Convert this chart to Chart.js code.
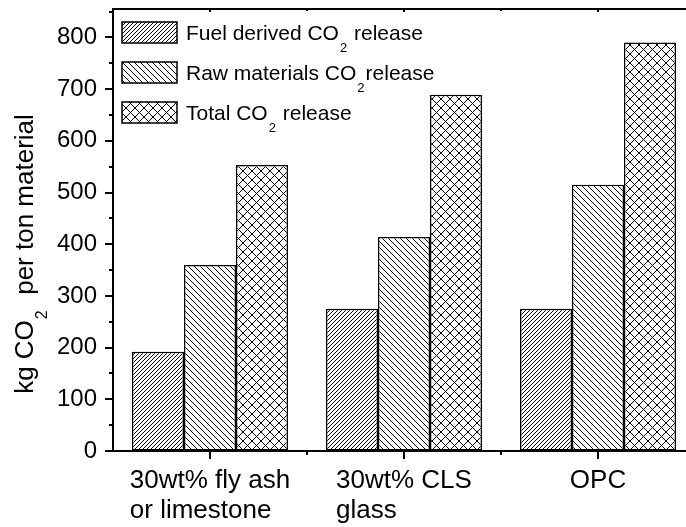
<!DOCTYPE html>
<html>
<head>
<meta charset="utf-8">
<script src="https://cdn.jsdelivr.net/npm/chart.js@4/dist/chart.umd.min.js"></script>
<style>
  html, body { margin: 0; padding: 0; background: #fff; overflow: hidden; }
  #chart { display: block; }
</style>
</head>
<body>
<canvas id="chart" width="700" height="527"></canvas>
<script>
// --- Data ---
const categories = [['30wt% fly ash', 'or limestone'], ['30wt% CLS', 'glass'], ['OPC']];
const seriesNames = ['Fuel derived CO\u2082 release', 'Raw materials CO\u2082release', 'Total CO\u2082 release'];
const fuelCO2 = [192, 275, 275];
const rawCO2 = [360, 414, 515];
const totalCO2 = [553, 689, 790];
const yTitle = 'kg CO\u2082  per ton material';

const FONT = '"Liberation Sans", Arial, sans-serif';

// --- Hatch patterns ---
const makeHatch = (size, dirs) => {
    const c = document.createElement('canvas');
    c.width = size; c.height = size;
    const g = c.getContext('2d');
    g.fillStyle = '#fff';
    g.fillRect(0, 0, size, size);
    g.strokeStyle = '#000';
    g.lineWidth = 1;
    dirs.forEach(d => {
        g.beginPath();
        for (let k = -1; k <= 1; k++) {
            if (d === '/') {
                g.moveTo(k * size - 1, size + 1);
                g.lineTo(k * size + size + 1, -1);
            } else {
                g.moveTo(k * size - 1, -1);
                g.lineTo(k * size + size + 1, size + 1);
            }
        }
        g.stroke();
    });
    return g.createPattern(c, 'repeat');
};

const ctx0 = document.getElementById('chart').getContext('2d');
const fills = [makeHatch(4, ['/']), makeHatch(6, ['\\']), makeHatch(9, ['/', '\\'])];

// draw text where '₂' becomes a lowered small 2, returns width
const drawSubText = (ctx, str, x, y, size, measureOnly) => {
    const parts = str.split('\u2082');
    let cx = x;
    parts.forEach((p, i) => {
        ctx.font = `${size}px ${FONT}`;
        if (!measureOnly) ctx.fillText(p, cx, y);
        cx += ctx.measureText(p).width;
        if (i < parts.length - 1) {
            ctx.font = `${Math.round(size * 0.62)}px ${FONT}`;
            cx += 1;
            if (!measureOnly) ctx.fillText('2', cx, y + size * 0.55);
            cx += ctx.measureText('2').width + 1;
        }
    });
    return cx - x;
};

const framePlugin = {
    id: 'frame',
    afterDraw(chart) {
        const { ctx, chartArea: a, scales: { x, y }, data } = chart;
        ctx.save();
        ctx.strokeStyle = '#000';
        ctx.fillStyle = '#000';
        ctx.lineWidth = 2;
        ctx.lineCap = 'butt';

        // top + right frame
        ctx.beginPath();
        ctx.moveTo(a.left - 1, a.top);
        ctx.lineTo(a.right, a.top);
        ctx.lineTo(a.right, a.bottom);
        ctx.stroke();

        // y tick marks (major every 100, minor every 50)
        ctx.beginPath();
        for (let v = 0; v <= y.max; v += 50) {
            const py = Math.round(y.getPixelForValue(v));
            const len = v % 100 === 0 ? 8 : 4;
            ctx.moveTo(a.left - len, py);
            ctx.lineTo(a.left, py);
        }
        // x tick marks: centers long, boundaries short; small inward ticks on top
        categories.forEach((_, i) => {
            const px = Math.round(x.getPixelForValue(i));
            ctx.moveTo(px, a.bottom);
            ctx.lineTo(px, a.bottom + 8);
            ctx.moveTo(px, a.top);
            ctx.lineTo(px, a.top + 3);
            if (i < categories.length - 1) {
                const bx = Math.round(x.getPixelForValue(i + 0.5));
                ctx.moveTo(bx, a.bottom);
                ctx.lineTo(bx, a.bottom + 4);
                ctx.moveTo(bx, a.top);
                ctx.lineTo(bx, a.top + 2);
            }
        });
        ctx.stroke();

        // category labels: left-aligned block centred under tick
        ctx.textBaseline = 'alphabetic';
        ctx.textAlign = 'left';
        ctx.font = `26px ${FONT}`;
        categories.forEach((lines, i) => {
            const px = x.getPixelForValue(i);
            const wmax = Math.max(...lines.map(l => ctx.measureText(l).width));
            lines.forEach((l, j) => ctx.fillText(l, px - wmax / 2, a.bottom + 37 + j * 30));
        });

        // y title
        ctx.save();
        ctx.translate(33, 254);
        ctx.rotate(-Math.PI / 2);
        const tw = drawSubText(ctx, yTitle, 0, 0, 26, true);
        drawSubText(ctx, yTitle, -tw / 2, 0, 26, false);
        ctx.restore();

        // legend
        data.datasets.forEach((ds, i) => {
            const sx = a.left + 9, sy = a.top + 13 + i * 40;
            ctx.fillStyle = ds.backgroundColor;
            ctx.fillRect(sx, sy, 55, 21);
            ctx.lineWidth = 1.5;
            ctx.strokeRect(sx, sy, 55, 21);
            ctx.fillStyle = '#000';
            drawSubText(ctx, ds.label, a.left + 73, sy + 18, 21, false);
        });
        ctx.restore();
    }
};

new Chart(ctx0, {
    type: 'bar',
    data: {
        labels: categories,
        datasets: [
            { label: seriesNames[0], data: fuelCO2, backgroundColor: fills[0] },
            { label: seriesNames[1], data: rawCO2, backgroundColor: fills[1] },
            { label: seriesNames[2], data: totalCO2, backgroundColor: fills[2] }
        ].map(d => Object.assign(d, {
            borderColor: '#000', borderWidth: 1.5, borderSkipped: false,
            categoryPercentage: 0.804, barPercentage: 1
        }))
    },
    plugins: [framePlugin],
    options: {
        responsive: false, animation: false, devicePixelRatio: 1,
        layout: { padding: { top: 9, right: 5, left: 0, bottom: 0 } },
        plugins: { legend: { display: false }, tooltip: { enabled: false } },
        scales: {
            x: {
                offset: true,
                grid: { display: false },
                border: { display: true, color: '#000', width: 2 },
                ticks: { display: false },
                afterFit: s => { s.height = 76; s.paddingLeft = 0; s.paddingRight = 0; }
            },
            y: {
                min: 0, max: 855,
                grid: { drawOnChartArea: false, drawTicks: false },
                border: { display: true, color: '#000', width: 2 },
                ticks: { stepSize: 100, padding: 16, color: '#000', font: { family: FONT, size: 24 } },
                afterBuildTicks: s => { s.ticks = s.ticks.filter(t => t.value % 100 === 0); },
                afterFit: s => { s.width = 113; s.paddingTop = 0; s.paddingBottom = 0; }
            }
        }
    }
});
</script>
</body>
</html>
